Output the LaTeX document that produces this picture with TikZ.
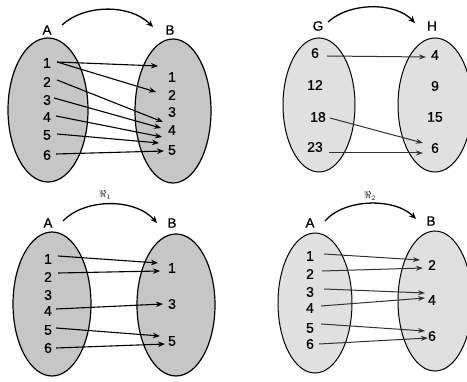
\documentclass[tikz,border=0pt]{standalone}
\usepackage{fontspec}
\setmainfont{Liberation Sans}
\newfontfamily\numfont[FakeBold=0.6]{Liberation Sans}
\usetikzlibrary{shapes.geometric,arrows.meta}
\begin{document}
\begin{tikzpicture}[x=1pt,y=-1pt,
  setdark/.style={ellipse,draw,fill=gray!45,line width=1.2pt,inner sep=0},
  setlight/.style={ellipse,draw,fill=gray!24,line width=1pt,inner sep=0},
  num/.style={font=\numfont\fontsize{14}{14}\selectfont,inner sep=0},
  lab/.style={font=\numfont\fontsize{13.5}{13.5}\selectfont,inner sep=0},
  rel/.style={font=\fontsize{10}{10}\selectfont,inner sep=0},
  elt/.style={-{Stealth[length=7pt,width=5.5pt]},line width=1.1pt},
  eltl/.style={-{Stealth[length=7pt,width=5pt]},line width=1pt,black!80},
  arc/.style={-{Stealth[length=7pt,width=6pt]},line width=1.3pt}]
\useasboundingbox (0,0) rectangle (467,382);
% ---------- panel 1 ----------
\node[setdark,minimum width=80,minimum height=144] (e1L) at (48,110) {};
\node[setdark,minimum width=76,minimum height=144] (e1R) at (173,111) {};
\node[lab] (p1A) at (47,30) {A};
\node[lab] (p1B) at (170,30) {B};
\coordinate (p1s) at (62,25);
\coordinate (p1e) at (153,27);
\draw[arc] (p1s) .. controls (85,4) and (130,4) .. (p1e);
\node[num] (a1) at (47,63) {1};
\node[num] (a2) at (47,82) {2};
\node[num] (a3) at (47,100) {3};
\node[num] (a4) at (47,117) {4};
\node[num] (a5) at (47,135) {5};
\node[num] (a6) at (47,155) {6};
\node[num] (b1) at (172,77) {1};
\node[num] (b2) at (172,95) {2};
\node[num] (b3) at (172,112) {3};
\node[num] (b4) at (172,130) {4};
\node[num] (b5) at (172,150) {5};
\coordinate (q1) at (158,66);
\coordinate (q2) at (156,92);
\coordinate (q3) at (163,122);
\coordinate (q4) at (161,128);
\coordinate (q5) at (162,137);
\coordinate (q6) at (159,143);
\coordinate (q7) at (164,151);
\draw[elt] ([xshift=6pt,yshift=1pt]a1.east) -- (q1);
\draw[elt] ([xshift=6pt,yshift=1pt]a1.east) -- (q2);
\draw[elt] ([xshift=6pt,yshift=2pt]a2.east) -- (q3);
\draw[elt] ([xshift=3pt,yshift=2pt]a3.east) -- (q4);
\draw[elt] ([xshift=5pt,yshift=1pt]a4.east) -- (q5);
\draw[elt] ([xshift=6pt,yshift=1pt]a5.east) -- (q6);
\draw[elt] ([xshift=5pt,yshift=1pt]a6.east) -- (q7);
% ---------- panel 2 ----------
\node[setlight,minimum width=72,minimum height=134] (e2L) at (319,105) {};
\node[setlight,minimum width=74,minimum height=134] (e2R) at (435,105) {};
\node[lab] (p2G) at (318,26) {G};
\node[lab] (p2H) at (432,26) {H};
\coordinate (p2s) at (328,22);
\coordinate (p2e) at (415,23);
\draw[arc] (p2s) .. controls (350,2) and (395,2) .. (p2e);
\node[num] (g1) at (315,53) {6};
\node[num] (g2) at (315,85) {12};
\node[num] (g3) at (318,117) {18};
\node[num] (g4) at (315,147) {23};
\node[num] (h1) at (435,55) {4};
\node[num] (h2) at (435,86) {9};
\node[num] (h3) at (435,117) {15};
\node[num] (h4) at (435,148) {6};
\coordinate (r1) at (426,57);
\coordinate (r2) at (423,143);
\coordinate (r3) at (423,153);
\draw[eltl] ([xshift=8pt,yshift=-3pt]g1.east) -- (r1);
\draw[eltl] ([xshift=4pt,yshift=-1pt]g3.east) -- (r2);
\draw[eltl] ([xshift=6pt,yshift=-6pt]g4.east) -- (r3);
% ---------- panel 3 ----------
\node[setdark,minimum width=78,minimum height=144] (e3L) at (52,304) {};
\node[setdark,minimum width=78,minimum height=142] (e3R) at (176,305) {};
\node[lab] (p3A) at (48,223) {A};
\node[lab] (p3B) at (172,223) {B};
\node[rel] (p3R) at (105,195) {$\Re_1$};
\coordinate (p3s) at (63,221);
\coordinate (p3e) at (157,223);
\draw[arc] (p3s) .. controls (85,198) and (135,198) .. (p3e);
\node[num] (c1) at (48,259) {1};
\node[num] (c2) at (48,277) {2};
\node[num] (c3) at (48,295) {3};
\node[num] (c4) at (48,311) {4};
\node[num] (c5) at (48,330) {5};
\node[num] (c6) at (48,348) {6};
\node[num] (d1) at (172,268) {1};
\node[num] (d3) at (172,304) {3};
\node[num] (d5) at (172,341) {5};
\coordinate (s1) at (158,263);
\coordinate (s2) at (160,271);
\coordinate (s3) at (163,304);
\coordinate (s4) at (160,336);
\coordinate (s5) at (165,344);
\draw[elt] ([xshift=6pt,yshift=3pt]c1.east) -- (s1);
\draw[elt] ([xshift=6pt,yshift=4pt]c2.east) -- (s2);
\draw[elt] ([xshift=4pt,yshift=2pt]c4.east) -- (s3);
\draw[elt] ([xshift=4pt,yshift=2pt]c5.east) -- (s4);
\draw[elt] ([xshift=4pt]c6.east) -- (s5);
% ---------- panel 4 ----------
\node[setlight,minimum width=74,minimum height=140] (e4L) at (315,303) {};
\node[setlight,minimum width=74,minimum height=140] (e4R) at (435,301) {};
\node[lab] (p4A) at (310,223) {A};
\node[lab] (p4B) at (431,221) {B};
\node[rel] (p4R) at (370,196) {$\Re_2$};
\coordinate (p4s) at (325,221);
\coordinate (p4e) at (416,219);
\draw[arc] (p4s) .. controls (345,198) and (395,198) .. (p4e);
\node[num] (m1) at (310,256) {1};
\node[num] (m2) at (310,274) {2};
\node[num] (m3) at (310,292) {3};
\node[num] (m4) at (310,308) {4};
\node[num] (m5) at (310,328) {5};
\node[num] (m6) at (310,344) {6};
\node[num] (n2) at (432,265) {2};
\node[num] (n4) at (432,300) {4};
\node[num] (n6) at (432,336) {6};
\coordinate (t1) at (420,260);
\coordinate (t2) at (423,268);
\coordinate (t3) at (425,293);
\coordinate (t4) at (425,298);
\coordinate (t5) at (425,331);
\coordinate (t6) at (428,338);
\draw[eltl] ([xshift=10pt,yshift=2pt]m1.east) -- (t1);
\draw[eltl] ([xshift=8pt,yshift=3pt]m2.east) -- (t2);
\draw[eltl] ([xshift=10pt,yshift=3pt]m3.east) -- (t3);
\draw[eltl] ([xshift=7pt,yshift=2pt]m4.east) -- (t4);
\draw[eltl] ([xshift=7pt,yshift=4pt]m5.east) -- (t5);
\draw[eltl] ([xshift=5pt]m6.east) -- (t6);
\end{tikzpicture}
\end{document}
